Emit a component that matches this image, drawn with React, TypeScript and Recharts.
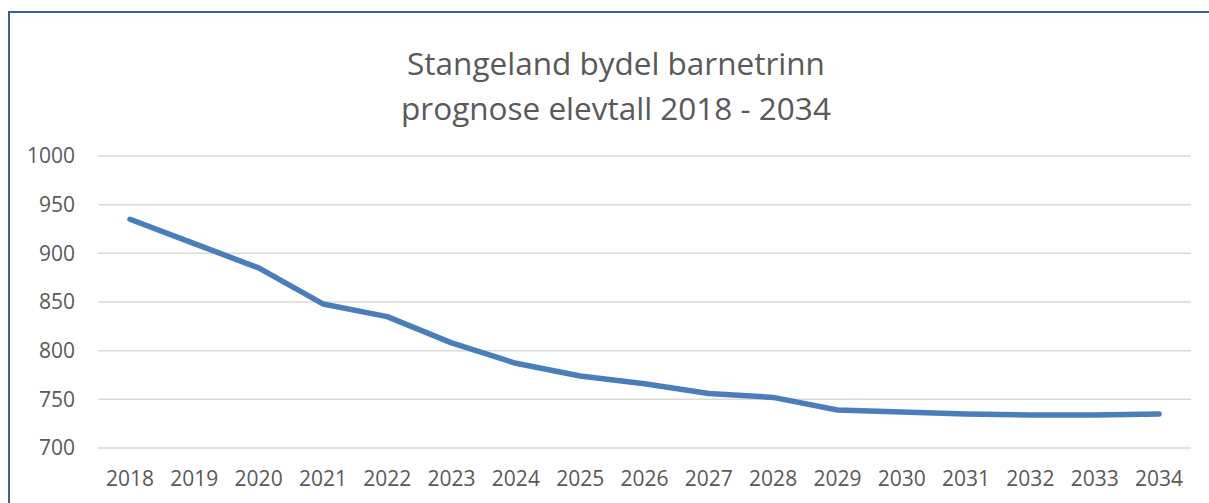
import { LineChart, Line, XAxis, YAxis, CartesianGrid } from 'recharts'

const years = [
  '2018', '2019', '2020', '2021', '2022', '2023', '2024', '2025', '2026',
  '2027', '2028', '2029', '2030', '2031', '2032', '2033', '2034',
]
const elevtall = [
  935, 910, 885, 848, 835, 808, 787, 774, 766, 756, 752, 739, 737, 735, 734,
  734, 735,
]
const yTicks = [700, 750, 800, 850, 900, 950, 1000]
const titleLines = ['Stangeland bydel barnetrinn', 'prognose elevtall 2018 - 2034']

const data = years.map((year, i) => ({ year, value: elevtall[i] }))

const font = '"Open Sans", sans-serif'
const textColor = '#595959'

export default function App() {
  return (
    <div
      style={{
        position: 'absolute',
        left: 0,
        top: 0,
        width: 1209,
        height: 503,
        background: '#fff',
        overflow: 'hidden',
        fontFamily: font,
      }}
    >
      {/* frame */}
      <div
        style={{
          position: 'absolute',
          left: 8,
          top: 11,
          width: 1220,
          height: 520,
          borderTop: '2px solid #3a6193',
          borderLeft: '2px solid #3a6193',
        }}
      />
      <svg
        width={1209}
        height={140}
        style={{ position: 'absolute', left: 0, top: 0 }}
      >
        {titleLines.map((t, i) => (
          <text
            key={t}
            x={616}
            y={75 + i * 45}
            textAnchor="middle"
            fontFamily={font}
            fontSize={31.5}
            fill={textColor}
          >
            {t}
          </text>
        ))}
      </svg>
      <div style={{ position: 'absolute', left: 0, top: 0 }}>
        <LineChart
          width={1209}
          height={503}
          data={data}
          margin={{ top: 156, right: 18, bottom: 25, left: 38 }}
        >
          <CartesianGrid
            vertical={false}
            stroke="#d9d9d9"
            strokeWidth={1.5}
          />
          <XAxis
            dataKey="year"
            axisLine={false}
            tickLine={false}
            tickSize={0}
            tickMargin={23}
            height={30}
            interval={0}
            padding={{ left: 32, right: 32 }}
            tick={{ fill: textColor, fontSize: 21, fontFamily: font }}
          />
          <YAxis
            domain={[700, 1000]}
            ticks={yTicks}
            width={60}
            axisLine={false}
            tickLine={false}
            tickSize={0}
            tickMargin={23}
            tick={{ fill: textColor, fontSize: 21, fontFamily: font }}
          />
          <Line
            type="linear"
            dataKey="value"
            stroke="#4a7ebb"
            strokeWidth={5.5}
            strokeLinecap="round"
            strokeLinejoin="round"
            dot={false}
            activeDot={false}
            isAnimationActive={false}
          />
        </LineChart>
      </div>
    </div>
  )
}
